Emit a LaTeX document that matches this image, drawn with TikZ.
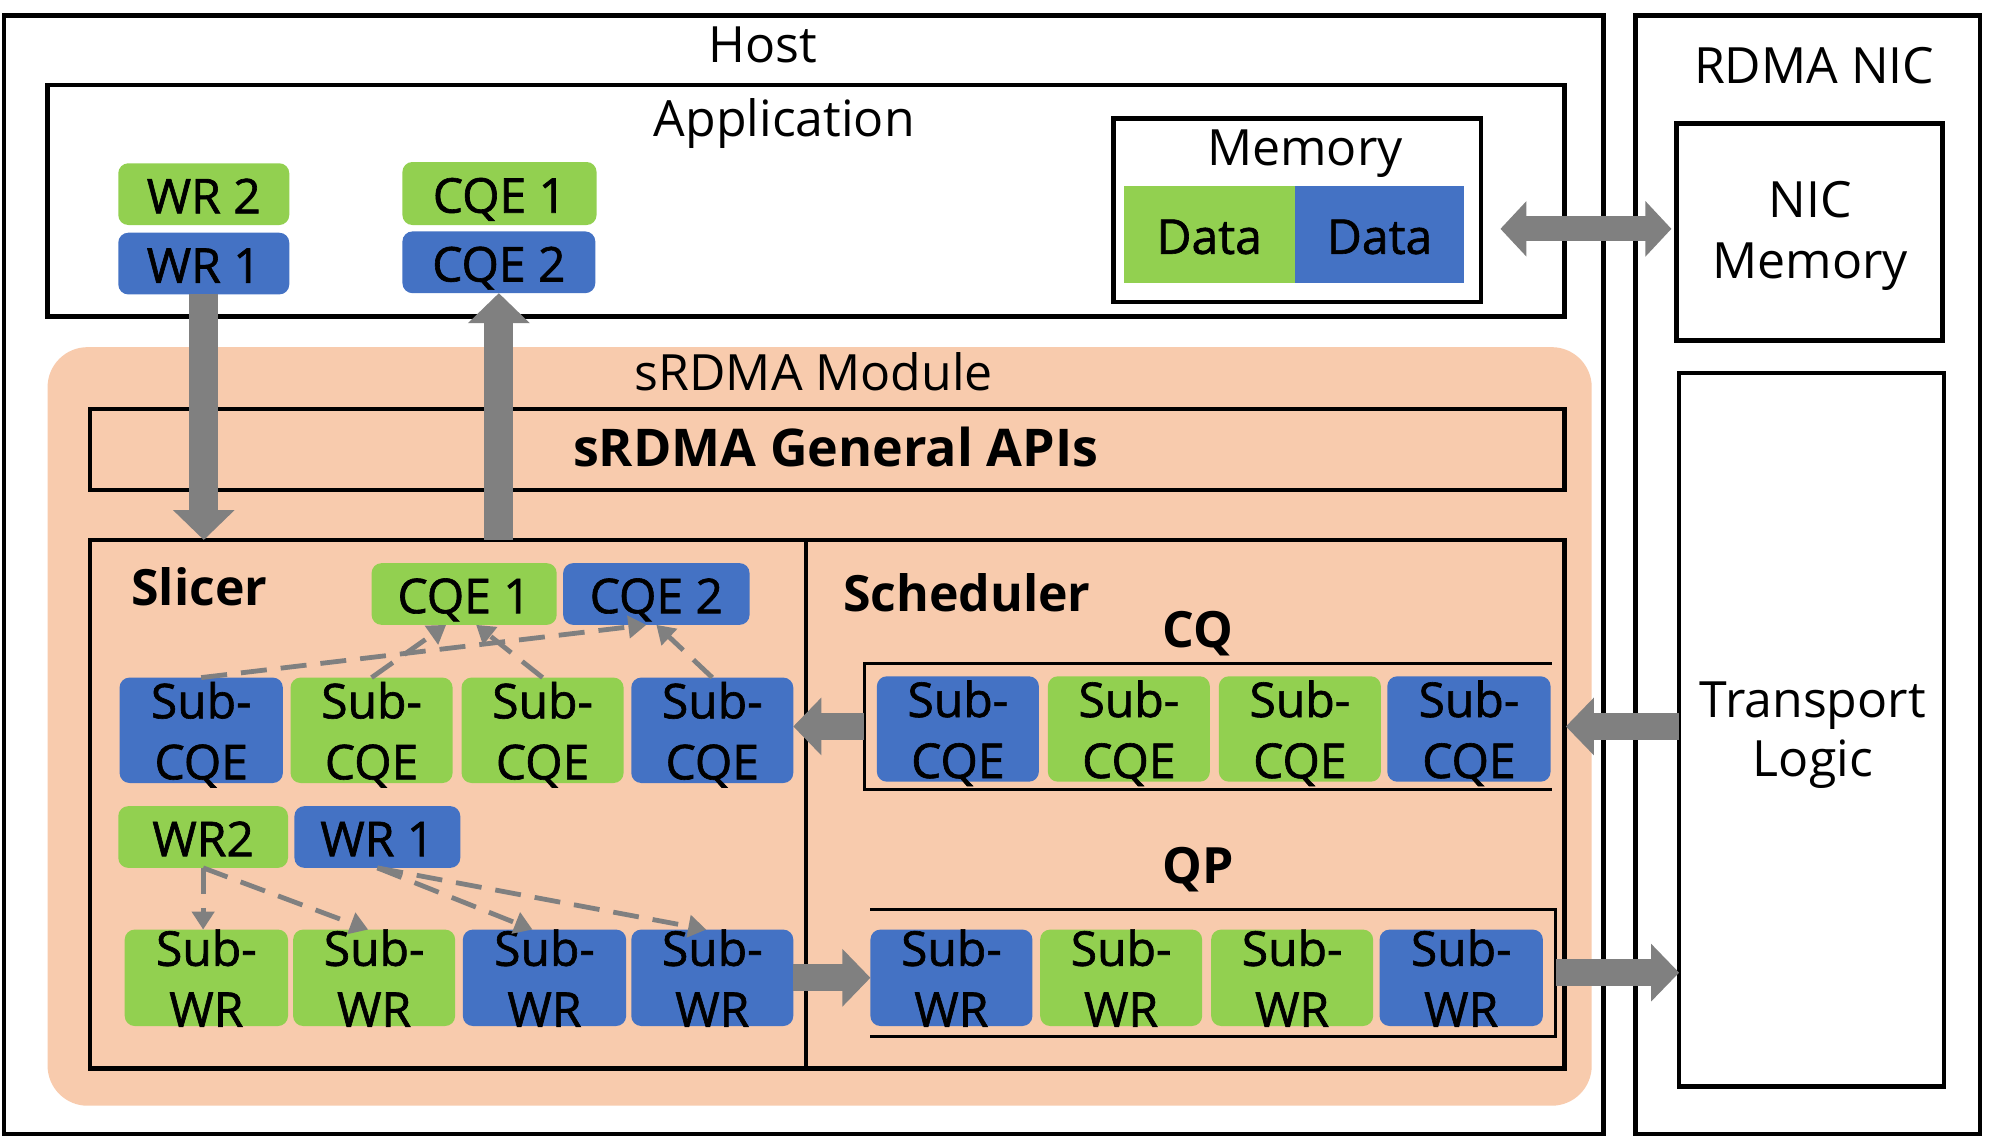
\documentclass[tikz,border=0pt]{standalone}
\usepackage{fontspec}
\setmainfont{Open Sans}
\newfontfamily\tilefont[FakeBold=1.3]{Open Sans}
\usetikzlibrary{arrows.meta,fit}
\definecolor{cgreen}{HTML}{92D050}
\definecolor{cblue}{HTML}{4472C4}
\definecolor{cpeach}{HTML}{F8CBAD}
\definecolor{cgrey}{HTML}{808080}
\newcommand\onel[1]{\raisebox{-9.6pt}[0pt][0pt]{#1}}
\newcommand\twol[2]{\raisebox{-24.5pt}[0pt][0pt]{\begin{tabular}[b]{@{}c@{}}#1\\#2\end{tabular}}}
\begin{document}
\begin{tikzpicture}[x=0.642857pt,y=-0.642857pt,
  every node/.style={inner sep=0pt, outer sep=0pt},
  frame/.style={draw=black, line width=2.3pt},
  tile/.style={rounded corners=5pt, font=\tilefont\fontsize{24}{30.5}\selectfont},
  gt/.style={tile, fill=cgreen},
  bt/.style={tile, fill=cblue},
  lbl/.style={font=\fontsize{25}{30.5}\selectfont, anchor=base, align=center},
  blbl/.style={font=\fontsize{25}{30}\selectfont\bfseries, anchor=base},
  bigv/.style={draw=cgrey, line width=14.5pt, -{Triangle[width=30pt,length=15pt]}},
  bigh/.style={draw=cgrey, line width=13.5pt, -{Triangle[width=28pt,length=14pt]}},
  dsh/.style={draw=cgrey, line width=2.4pt, dash pattern=on 13pt off 7pt, -{Triangle[width=11pt,length=9pt]}},
]
\useasboundingbox[fill=white] (0,0) rectangle (1568,885);

% containers
\node[frame, fit={(3,12)(1247,882)}] (host) {};
\node[frame, fit={(1272,12)(1540,882)}] (nic) {};
\node[frame, fit={(1304,96)(1511,265)}] (nicmem) {};
\node[frame, fit={(1306,290)(1512,845)}] (transport) {};
\node[frame, fit={(37,66)(1217,246)}] (app) {};
\node[frame, fit={(866,92)(1152,235)}] (mem) {};

\node[lbl] (hostlbl) at (593,48.6) {Host};
\node[lbl] (niclbl) at (1411,64.7) {RDMA NIC};
\node[lbl] (applbl) at (610,106) {Application};
\node[lbl] (memlbl) at (1015,129) {Memory};
\node[lbl] (nicmemlbl) at (1408,216.7) {NIC\\Memory};
\node[lbl, font=\fontsize{25}{29.6}\selectfont] (translbl) at (1410,604) {Transport\\Logic};

% application tiles
\node[gt, fit={(92,127)(225,175)}] (wr2a) {\onel{WR 2}};
\node[bt, fit={(92,181)(225,229)}] (wr1a) {\onel{WR 1}};
\node[gt, fit={(313,126)(464,175)}] (cqe1a) {\onel{CQE 1}};
\node[bt, fit={(313,180)(463,228)}] (cqe2a) {\onel{CQE 2}};
\node[gt, rounded corners=0pt, fit={(874,145)(1007,220)}] (data1) {\onel{Data}};
\node[bt, rounded corners=0pt, fit={(1007,145)(1139,220)}] (data2) {\onel{Data}};

% sRDMA module
\node[fill=cpeach, rounded corners=20pt, fit={(37,270)(1238,860)}] (module) {};
\node[lbl] (modlbl) at (633,304) {sRDMA Module};
\node[frame, fit={(70,318)(1217,381)}] (apis) {};
\node[blbl, font=\fontsize{26}{30}\selectfont\bfseries] (apislbl) at (650,362.5) {sRDMA General APIs};
\node[frame, fit={(70,420)(1217,831)}] (inner) {};
\coordinate (div) at (627,420);
\draw[line width=2.3pt] (div) -- (div |- inner.south);

\node[blbl] (slicerlbl) at (155,470.6) {Slicer};
\node[blbl] (schedlbl) at (752,475.8) {Scheduler};
\node[blbl] (cqlbl) at (932,503.7) {CQ};
\node[blbl] (qplbl) at (932,687) {QP};

% slicer tiles
\node[gt, fit={(289,438)(433,486)}] (cqe1s) {\onel{CQE 1}};
\node[bt, fit={(438,438)(583,486)}] (cqe2s) {\onel{CQE 2}};
\node[bt, fit={(93,527)(220,609)}] (scqe1) {\twol{Sub-}{CQE}};
\node[gt, fit={(226,527)(352,609)}] (scqe2) {\twol{Sub-}{CQE}};
\node[gt, fit={(359,527)(485,609)}] (scqe3) {\twol{Sub-}{CQE}};
\node[bt, fit={(491,527)(617,609)}] (scqe4) {\twol{Sub-}{CQE}};
\node[gt, fit={(92,627)(224,675)}] (wr2s) {\onel{WR2}};
\node[bt, fit={(229,627)(358,675)}] (wr1s) {\onel{WR 1}};
\node[gt, fit={(97,723)(224,798)}] (swr1) {\twol{Sub-}{WR}};
\node[gt, fit={(228,723)(354,798)}] (swr2) {\twol{Sub-}{WR}};
\node[bt, fit={(360,723)(487,798)}] (swr3) {\twol{Sub-}{WR}};
\node[bt, fit={(491,723)(617,798)}] (swr4) {\twol{Sub-}{WR}};

% scheduler CQ
\node[fit={(672,516)(1207,614)}] (cq) {};
\draw[line width=1.5pt] (cq.north east) -- (cq.north west) -- (cq.south west) -- (cq.south east);
\node[bt, fit={(682,526)(808,608)}] (qcqe1) {\twol{Sub-}{CQE}};
\node[gt, fit={(815,526)(941,608)}] (qcqe2) {\twol{Sub-}{CQE}};
\node[gt, fit={(948,526)(1074,608)}] (qcqe3) {\twol{Sub-}{CQE}};
\node[bt, fit={(1079,526)(1206,608)}] (qcqe4) {\twol{Sub-}{CQE}};

% scheduler QP
\node[fit={(677,707)(1210,806)}] (qp) {};
\draw[line width=1.5pt] (qp.north west) -- (qp.north east) -- (qp.south east) -- (qp.south west);
\node[bt, fit={(677,723)(803,798)}] (qswr1) {\twol{Sub-}{WR}};
\node[gt, fit={(809,723)(935,798)}] (qswr2) {\twol{Sub-}{WR}};
\node[gt, fit={(942,723)(1068,798)}] (qswr3) {\twol{Sub-}{WR}};
\node[bt, fit={(1073,723)(1200,798)}] (qswr4) {\twol{Sub-}{WR}};

% big arrows
\draw[bigv] (wr1a.south) -- (wr1a.south |- inner.north);
\draw[bigv] (cqe2a.south |- inner.north) -- (cqe2a.south);
\coordinate (da1) at (1167,178);
\coordinate (da2) at (1300,178);
\draw[draw=cgrey, line width=12.5pt, {Triangle[width=27pt,length=13pt]}-{Triangle[width=27pt,length=13pt]}] (da1) -- (da2);
\draw[bigh] (transport.west |- cq.east) -- ([xshift=7]cq.east);
\draw[bigh] (cq.west) -- (cq.west -| scqe4.east);
\draw[bigh] (swr4.east) -- (swr4.east -| qswr1.west);
\draw[bigh] (qp.east) -- (qp.east -| transport.west);

% dashed arrows
\draw[dsh] (scqe1.north) -- ([xshift=-5]cqe2s.south);
\draw[dsh] (scqe2.north) -- ([xshift=-9]cqe1s.south);
\draw[dsh] (scqe3.north) -- ([xshift=6]cqe1s.south);
\draw[dsh] (scqe4.north) -- (cqe2s.south);
\draw[dsh] (wr2s.south) -- (wr2s.south |- swr1.north);
\draw[dsh] (wr2s.south) -- ([xshift=-3]swr2.north);
\draw[dsh] (wr1s.south) -- ([xshift=-6]swr3.north);
\draw[dsh] (wr1s.south) -- ([xshift=-3]swr4.north);
\end{tikzpicture}
\end{document}
